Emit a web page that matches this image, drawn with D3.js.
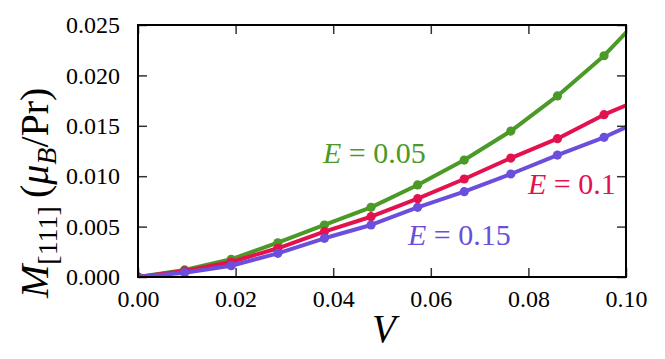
<!DOCTYPE html>
<html><head><meta charset="utf-8">
<script src="https://cdn.jsdelivr.net/npm/d3@7"></script>
<style>body{margin:0;background:#fff}svg{display:block}svg text{font-family:"Liberation Serif","Times New Roman",serif !important;}</style>
</head><body>
<script>
const V = [0, 0.00955, 0.0191, 0.02865, 0.0382, 0.04775, 0.0573, 0.06685, 0.0764, 0.08595, 0.0955, 0.10505];
const M_E005 = [0, 0.0007, 0.00176, 0.0034, 0.00516, 0.00691, 0.00913, 0.0116, 0.01448, 0.01796, 0.02195, 0.0268];
const M_E010 = [0, 0.0006, 0.00149, 0.00285, 0.0045, 0.00598, 0.00777, 0.00972, 0.0118, 0.01372, 0.0161, 0.01808];
const M_E015 = [0, 0.00043, 0.00112, 0.00235, 0.00384, 0.00516, 0.00691, 0.00846, 0.01022, 0.0121, 0.01386, 0.01596];
const xTicks = [0, 0.02, 0.04, 0.06, 0.08, 0.10];
const yTicks = [0, 0.005, 0.010, 0.015, 0.020, 0.025];
const seriesNames = ["0.05", "0.1", "0.15"];
const colors = ["#4b9a28", "#e3124f", "#6b4fdc"];

const W = 665, H = 359;
const L = 138, R = 626, T = 25, B = 277;
const svg = d3.select("body").append("svg").attr("width", W).attr("height", H);
const x = d3.scaleLinear().domain([0, 0.1]).range([L, R]);
const y = d3.scaleLinear().domain([0, 0.025]).range([B, T]);

svg.append("clipPath").attr("id","clip").append("rect")
  .attr("x", L).attr("y", T).attr("width", R-L).attr("height", B-T);

const series = [M_E005, M_E010, M_E015];
const g = svg.append("g").attr("clip-path","url(#clip)");
const line = d3.line().x((d,i)=>x(V[i])).y(d=>y(d));
series.forEach((s, k) => {
  g.append("path").datum(s).attr("d", line).attr("fill","none")
   .attr("stroke", colors[k]).attr("stroke-width", 4).attr("stroke-linejoin","round");
  g.selectAll(null).data(s).enter().append("circle")
   .attr("cx",(d,i)=>x(V[i])).attr("cy",d=>y(d)).attr("r",4.6).attr("fill",colors[k]);
});

const fmtX = d3.format(".2f"), fmtY = d3.format(".3f");
const tickLen = 9;
const ax = [
  svg.append("g").attr("transform",`translate(0,${B})`).call(d3.axisBottom(x).tickValues(xTicks).tickSizeInner(-tickLen).tickSizeOuter(0).tickPadding(tickLen+4).tickFormat(fmtX)),
  svg.append("g").attr("transform",`translate(0,${T})`).call(d3.axisTop(x).tickValues(xTicks).tickSizeInner(-tickLen).tickSizeOuter(0).tickFormat("")),
  svg.append("g").attr("transform",`translate(${L},0)`).call(d3.axisLeft(y).tickValues(yTicks).tickSizeInner(-tickLen).tickSizeOuter(0).tickPadding(tickLen+9).tickFormat(fmtY)),
  svg.append("g").attr("transform",`translate(${R},0)`).call(d3.axisRight(y).tickValues(yTicks).tickSizeInner(-tickLen).tickSizeOuter(0).tickFormat(""))
];
ax.forEach(a => {
  a.attr("font-family", null).attr("font-size", null);
  a.select(".domain").remove();
  a.selectAll(".tick line").attr("stroke","#333").attr("stroke-width",1.5);
  a.selectAll(".tick text").style("font-size", "24px").attr("fill","#000");
});
svg.append("rect").attr("x",L).attr("y",T).attr("width",R-L).attr("height",B-T)
  .attr("fill","none").attr("stroke","#000").attr("stroke-width",2);

svg.append("text").attr("x", 372).attr("y", 342)
  .style("font-size", "39px").attr("font-style","italic").text("V");

const yl = svg.append("text").attr("transform","translate(48,298) rotate(-90)")
  .style("font-size", "40px").attr("fill","#000");
yl.append("tspan").attr("font-style","italic").text("M");
yl.append("tspan").style("font-size", "28px").attr("dy", 9).text("[111]");
yl.append("tspan").attr("dy", -9).text("\u2009(");
yl.append("tspan").attr("font-style","italic").text("\u03bc");
yl.append("tspan").attr("font-style","italic").style("font-size", "28px").attr("dy", 8).text("B");
yl.append("tspan").attr("dy", -8).text("/Pr)");

const labelPos = [[323,163],[528,194],[408,245]];
seriesNames.forEach((n, k) => {
  const t = svg.append("text").attr("x", labelPos[k][0]).attr("y", labelPos[k][1])
    .style("font-size", "30px").attr("fill", colors[k]);
  t.append("tspan").attr("font-style","italic").text("E");
  t.append("tspan").text(" = " + n);
});
</script>
</body></html>
